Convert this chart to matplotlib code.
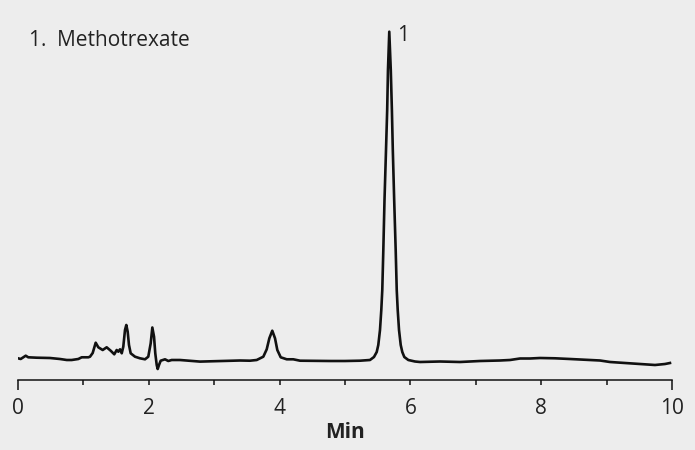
import matplotlib
matplotlib.use("Agg")
import matplotlib.pyplot as plt
from matplotlib.ticker import FixedLocator, FixedFormatter

plt.rcParams['font.family'] = ['Open Sans', 'DejaVu Sans']

# Retention time (min) and detector signal (arbitrary units)
time_min = [0.0, 0.041, 0.072, 0.118, 0.157, 0.286, 0.489, 0.642, 0.745, 0.821, 0.922, 0.974,
            1.075, 1.101, 1.142, 1.188, 1.228, 1.295, 1.356, 1.417, 1.472, 1.509, 1.534, 1.560,
            1.586, 1.610, 1.636, 1.656, 1.677, 1.697, 1.723, 1.789, 1.865, 1.942, 1.992, 2.029,
            2.054, 2.080, 2.099, 2.121, 2.136, 2.156, 2.182, 2.248, 2.298, 2.350, 2.477, 2.783,
            3.394, 3.547, 3.650, 3.751, 3.803, 3.843, 3.888, 3.930, 3.965, 4.017, 4.109, 4.209,
            4.312, 4.771, 5.000, 5.229, 5.382, 5.443, 5.485, 5.509, 5.535, 5.555, 5.570, 5.586,
            5.604, 5.627, 5.645, 5.657, 5.677, 5.700, 5.717, 5.731, 5.752, 5.775, 5.791, 5.806,
            5.826, 5.852, 5.876, 5.907, 5.968, 6.070,
            6.147, 6.453, 6.758, 7.064, 7.370, 7.523, 7.676, 7.829, 7.982, 8.211, 8.440,
            8.746, 8.899, 9.052, 9.281, 9.511, 9.740, 9.893, 9.969]
signal = [2.7, 2.0, 3.3, 5.3, 3.7, 3.3, 3.0, 2.0, 1.0, 1.0, 2.0, 3.7,
          3.7, 4.3, 8.0, 18.3, 13.7, 11.0, 13.7, 10.3, 6.7, 11.0, 9.3, 11.7,
          7.7, 14.3, 31.0, 36.0, 29.3, 16.0, 7.7, 4.3, 2.7, 1.7, 4.3, 17.7,
          33.5, 24.3, 7.7, -4.0, -8.0, -4.0, 0.3, 1.7, 0.0, 1.0, 1.0, -0.6,
          0.5, 0.3, 1.0, 4.3, 11.7, 22.7, 30.3, 22.7, 11.0, 3.7, 1.7, 1.7,
          0.3, 0.0, 0.0, 0.3, 1.0, 4.0, 9.0, 16.0, 31.0, 51.0, 71.0, 111.0,
          161.0, 211.0, 251.0, 291.0, 329.3, 291.0, 251.0, 211.0, 161.0, 111.0, 71.0, 51.0,
          31.0, 16.0, 9.0, 4.0, 1.0, -0.5,
          -1.0, -0.5, -1.0, 0.0, 0.5, 1.0, 2.5, 2.5, 3.0, 2.7, 2.0,
          1.0, 0.5, -1.0, -2.0, -3.0, -4.0, -3.0, -2.0]

peak_labels = ["1"]
peak_times = [5.677]
peak_heights = [329.3]
legend_text = "1.  Methotrexate"

major_ticks = [0, 10]
minor_ticks = [1, 2, 3, 4, 5, 6, 7, 8, 9]
minor_labels = ["", "2", "", "4", "", "6", "", "8", ""]

bg = '#ededed'
fig = plt.figure(figsize=(6.95, 4.5), dpi=100, facecolor=bg)
ax = fig.add_axes([18/695, 70/450, 654/695, 360/450], facecolor=bg)

ax.plot(time_min, signal, color='#111111', lw=1.9, solid_joinstyle='round')

ax.set_xlim(0, 10)
ax.set_ylim(-19, 341)

for s in ['top', 'right', 'left']:
    ax.spines[s].set_visible(False)
ax.spines['bottom'].set_linewidth(1.1)
ax.spines['bottom'].set_color('#111111')
ax.set_yticks([])

ax.xaxis.set_major_locator(FixedLocator(major_ticks))
ax.xaxis.set_major_formatter(FixedFormatter([str(v) for v in major_ticks]))
ax.xaxis.set_minor_locator(FixedLocator(minor_ticks))
ax.xaxis.set_minor_formatter(FixedFormatter(minor_labels))
ax.tick_params(axis='x', which='major', length=7.2, width=1.1, color='#111111',
               labelsize=15, labelcolor='#222222', pad=6)
ax.tick_params(axis='x', which='minor', length=3.6, width=1.1, color='#111111',
               labelsize=15, labelcolor='#222222', pad=9.6)

ax.set_xlabel('Min', fontsize=15, fontweight='bold', color='#222222', labelpad=2)

for lab, t, h in zip(peak_labels, peak_times, peak_heights):
    ax.annotate(lab, xy=(t, h), xytext=(10, -7), textcoords='offset points',
                ha='center', va='baseline', fontsize=15, color='#222222')

fig.text(29/695, 1 - 46/450, legend_text, fontsize=15, color='#222222', va='baseline', ha='left')

fig.savefig('out.png', dpi=100, facecolor=bg)
